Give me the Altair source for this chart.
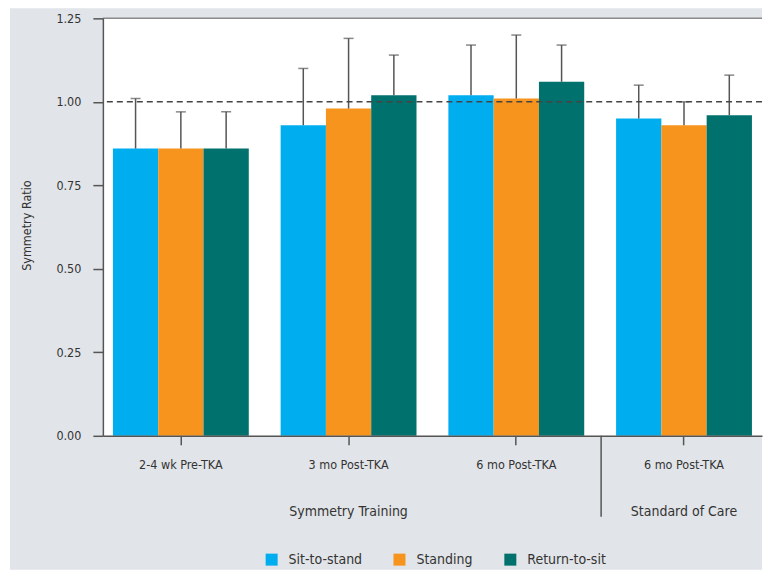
import altair as alt
import pandas as pd

groups = ["2-4 wk Pre-TKA", "3 mo Post-TKA", "6 mo Post-TKA", "6 mo Post-TKA "]
series = ["Sit-to-stand", "Standing", "Return-to-sit"]
colors = ["#00AEEF", "#F7941D", "#00716C"]

sit_mean = [0.86, 0.93, 1.02, 0.95]
stand_mean = [0.86, 0.98, 1.01, 0.93]
ret_mean = [0.86, 1.02, 1.06, 0.96]

sit_hi = [1.01, 1.10, 1.17, 1.05]
stand_hi = [0.97, 1.19, 1.20, 1.00]
ret_hi = [0.97, 1.14, 1.17, 1.08]

super_groups = ["Symmetry Training", "Standard of Care"]
super_anchor = ["3 mo Post-TKA", "6 mo Post-TKA "]

y_ticks = [0, 0.25, 0.5, 0.75, 1.0, 1.25]
reference = [1.0]

rows = []
for s, m, h in zip(series, [sit_mean, stand_mean, ret_mean], [sit_hi, stand_hi, ret_hi]):
    for g, mv, hv in zip(groups, m, h):
        rows.append({"group": g, "series": s, "value": mv, "hi": hv})
df = pd.DataFrame(rows)

FONT = "'DejaVu Sans Condensed', 'Liberation Sans Narrow', sans-serif"
W, H = 660, 418
GRAY = "#e1e4e8"
TXT = "#333333"
AX = "#555555"

xscale = alt.Scale(domain=groups, paddingInner=0.19, paddingOuter=0.06)
xaxis = alt.Axis(
    title=None, labelAngle=0, tickSize=9, labelPadding=14, labelFontSize=12.5,
    labelColor=TXT, domainColor=AX, tickColor=AX, domainWidth=1.5, tickWidth=1.5,
    grid=False, zindex=2,
)
x_enc = alt.X("group:N", scale=xscale, axis=xaxis, sort=groups)
xo_enc = alt.XOffset("series:N", sort=series,
                     scale=alt.Scale(domain=series, paddingInner=0, paddingOuter=0))
yscale = alt.Scale(domain=[0, 1.25])
yaxis = alt.Axis(
    values=y_ticks, format=".2f", tickSize=10, labelPadding=12, labelFontSize=12.5,
    labelColor=TXT, domainColor=AX, tickColor=AX, domainWidth=1.5, tickWidth=1.5,
    grid=False, title="Symmetry Ratio", titleFontSize=12.5, titleFontWeight="normal",
    titleColor=TXT, titleX=-76, titleY=207, titleAngle=-90, titleAlign="center",
    titleBaseline="middle", zindex=2,
)

one = pd.DataFrame({"k": [0]})

bg = alt.Chart(one).mark_rect(color=GRAY).encode(
    x=alt.value(-93), x2=alt.value(W), y=alt.value(-10), y2=alt.value(570 - 18)
)
plot_bg = alt.Chart(one).mark_rect(color="white").encode(
    x=alt.value(0), x2=alt.value(W), y=alt.value(0), y2=alt.value(H)
)
top_line = alt.Chart(one).mark_rule(color="#8a8a8a", strokeWidth=1.5).encode(
    x=alt.value(0), x2=alt.value(W), y=alt.value(0)
)

base = alt.Chart(df).encode(x=x_enc, xOffset=xo_enc)

bars = base.mark_bar().encode(
    y=alt.Y("value:Q", scale=yscale, axis=yaxis),
    color=alt.Color(
        "series:N", sort=series,
        scale=alt.Scale(domain=series, range=colors),
        legend=alt.Legend(
            title=None, orient="none", legendX=162, legendY=535, direction="horizontal",
            symbolType="square", symbolSize=144, symbolStrokeWidth=0, labelFontSize=14,
            labelColor=TXT, labelOffset=10, columnPadding=30, padding=0,
            symbolOpacity=1,
        ),
    ),
)
whisk = base.mark_rule(color="#555555", strokeWidth=1.5).encode(
    y=alt.Y("value:Q", scale=yscale), y2="hi:Q"
)
caps = base.mark_tick(color="#555555", size=10, thickness=1.5, orient="horizontal").encode(
    y=alt.Y("hi:Q", scale=yscale)
)

ref = alt.Chart(pd.DataFrame({"y": reference})).mark_rule(
    color="#444444", strokeDash=[6, 4], strokeWidth=1.5
).encode(y=alt.Y("y:Q", scale=yscale))

sup = pd.DataFrame({"group": super_anchor, "label": super_groups})
sup_text = alt.Chart(sup).mark_text(
    fontSize=14, color=TXT, baseline="middle", align="center"
).encode(x=alt.X("group:N", scale=xscale, sort=groups), y=alt.value(H + 76), text="label:N")

sep = alt.Chart(pd.DataFrame({"group": [groups[3]]})).mark_rule(
    color=AX, strokeWidth=1.5, xOffset=-83
).encode(x=alt.X("group:N", scale=xscale, sort=groups), y=alt.value(H), y2=alt.value(H + 81))

chart = alt.layer(bg, plot_bg, top_line, bars, whisk, caps, ref, sup_text, sep).properties(
    width=W, height=H, background="white",
    padding={"left": 10, "top": 8, "right": 0, "bottom": 0},
).configure(font=FONT).configure_view(stroke=None)

chart.save("out.html", embed_options={"renderer": "svg", "actions": False})
